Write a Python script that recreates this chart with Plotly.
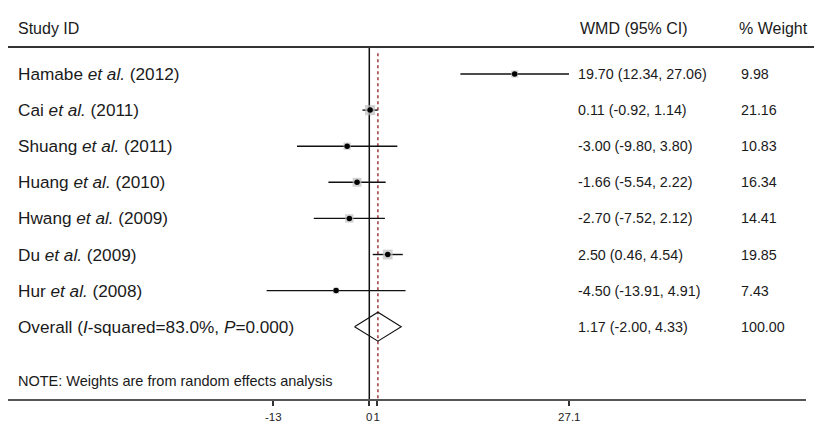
import plotly.graph_objects as go
import numpy as np

studies = ["Hamabe <i>et al.</i> (2012)", "Cai <i>et al.</i> (2011)", "Shuang <i>et al.</i> (2011)",
           "Huang <i>et al.</i> (2010)", "Hwang <i>et al.</i> (2009)", "Du <i>et al.</i> (2009)",
           "Hur <i>et al.</i> (2008)"]
wmd = [19.70, 0.11, -3.00, -1.66, -2.70, 2.50, -4.50]
lo = [12.34, -0.92, -9.80, -5.54, -7.52, 0.46, -13.91]
hi = [27.06, 1.14, 3.80, 2.22, 2.12, 4.54, 4.91]
weight = [9.98, 21.16, 10.83, 16.34, 14.41, 19.85, 7.43]
overall_label = "Overall (<i>I</i>-squared=83.0%, <i>P</i>=0.000)"
overall = 1.17
overall_lo = -2.00
overall_hi = 4.33
tick_vals = [-13, 0, 1, 27.1]
tick_text = ["-13", "0", "1", "27.1"]

n = len(studies)
rows = list(range(n))
orow = n

fig = go.Figure()
FONT = "Liberation Sans, Arial, sans-serif"
TXT = "#1a1a1a"

for i in rows:
    fig.add_trace(go.Scatter(x=[lo[i], hi[i]], y=[i, i], mode="lines",
                             line=dict(color="#111", width=1.4), showlegend=False, hoverinfo="skip"))
fig.add_trace(go.Scatter(x=wmd, y=rows, mode="markers",
                         marker=dict(symbol="square", size=[2.2 * np.sqrt(w) for w in weight],
                                     color="#bdbdbd", line=dict(width=0)),
                         showlegend=False, hoverinfo="skip"))
fig.add_trace(go.Scatter(x=wmd, y=rows, mode="markers",
                         marker=dict(symbol="circle", size=5.5, color="#000"),
                         showlegend=False, hoverinfo="skip"))
h = 0.4
fig.add_trace(go.Scatter(x=[overall_lo, overall, overall_hi, overall, overall_lo],
                         y=[orow, orow - h, orow, orow + h, orow], mode="lines",
                         line=dict(color="#111", width=1.1), showlegend=False, hoverinfo="skip"))

fig.add_shape(type="line", x0=0, x1=0, xref="x", y0=0, y1=1, yref="paper",
              line=dict(color="#111", width=1.5), layer="below")
fig.add_shape(type="line", x0=overall, x1=overall, xref="x", y0=0.005, y1=0.99, yref="paper",
              line=dict(color="#8b1a1a", width=1.3, dash="3px,3px"), layer="below")
fig.add_shape(type="line", x0=8 / 814, x1=1, xref="paper", y0=1, y1=1, yref="paper",
              line=dict(color="#333", width=2))
fig.add_shape(type="line", x0=8 / 814, x1=806 / 814, xref="paper", y0=0, y1=0, yref="paper",
              line=dict(color="#555", width=2))

ann = []
def txt(x, y, s, size=14.3, yref="y"):
    ann.append(dict(x=x, y=y, xref="paper", yref=yref, text=s, showarrow=False, xanchor="left",
                    yanchor="middle", xshift=-2, font=dict(family=FONT, size=size, color=TXT)))

header_y = 1 + 19 / 353
txt(18 / 814, header_y, "Study ID", size=16, yref="paper")
txt(580 / 814, header_y, "WMD (95% CI)", size=16, yref="paper")
txt(739 / 814, header_y, "% Weight", size=16, yref="paper")
for i in rows:
    txt(18 / 814, i, studies[i], size=17.2)
    txt(578 / 814, i, f"{wmd[i]:.2f} ({lo[i]:.2f}, {hi[i]:.2f})")
    txt(741 / 814, i, f"{weight[i]:.2f}")
txt(18 / 814, orow, overall_label, size=17.2)
txt(578 / 814, orow, f"{overall:.2f} ({overall_lo:.2f}, {overall_hi:.2f})")
txt(741 / 814, orow, f"{sum(weight):.2f}")
txt(18 / 814, 8.5, "NOTE: Weights are from random effects analysis", size=14.5)

fig.update_layout(
    width=814, height=426, margin=dict(l=0, r=0, t=47, b=26, autoexpand=False),
    paper_bgcolor="white", plot_bgcolor="white", annotations=ann,
    xaxis=dict(range=[-50.04, 60.26], showgrid=False, zeroline=False, showline=False,
               tickvals=tick_vals, ticktext=tick_text, ticks="outside", ticklen=5,
               tickcolor="#333", tickwidth=1.5, tickangle=0, automargin=False,
               ticklabelstandoff=1,
               tickfont=dict(family=FONT, size=11.5, color="#222")),
    yaxis=dict(range=[9.03, -0.748], showgrid=False, zeroline=False, showline=False,
               showticklabels=False, automargin=False),
)
fig.write_html("out.html", post_script="document.body.style.margin='0';",
               config={"displayModeBar": False})
